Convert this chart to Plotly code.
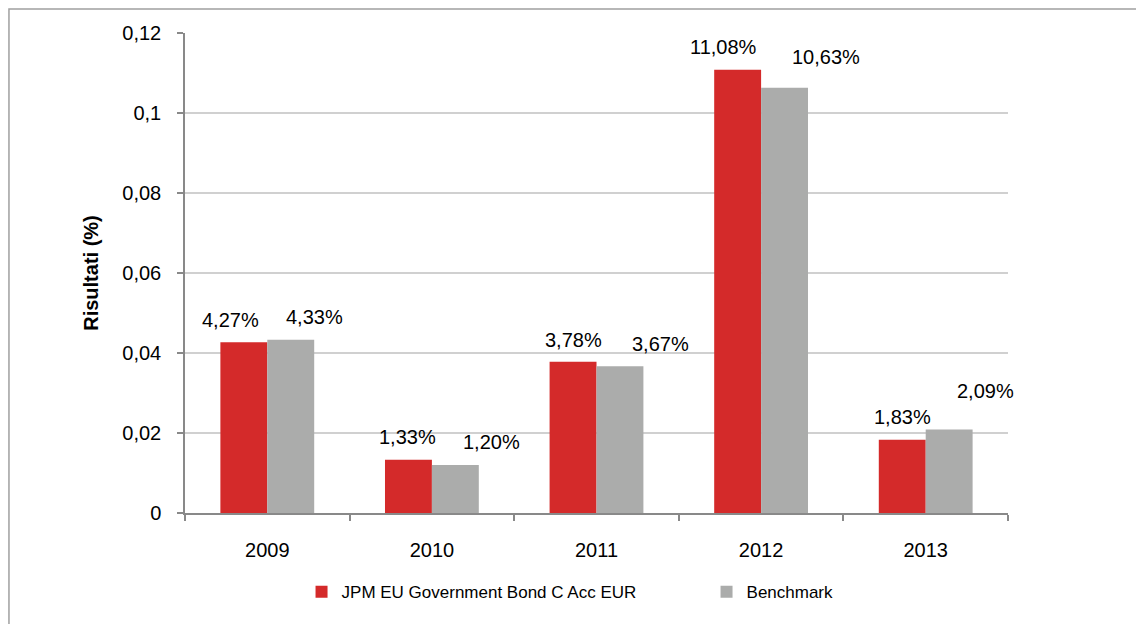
import plotly.graph_objects as go

years = ["2009", "2010", "2011", "2012", "2013"]
fund_name = "JPM EU Government Bond C Acc EUR"
bench_name = "Benchmark"
fund = [0.0427, 0.0133, 0.0378, 0.1108, 0.0183]
bench = [0.0433, 0.0120, 0.0367, 0.1063, 0.0209]
y_ticks = [0, 0.02, 0.04, 0.06, 0.08, 0.1, 0.12]
y_ticktext = ["0", "0,02", "0,04", "0,06", "0,08", "0,1", "0,12"]
y_title = "Risultati (%)"

# label offsets (pixels) relative to category centre / bar top
fund_dx = [-37, -24, -23, -38, -23]
fund_dy = [22, 23, 22, 23, 23]
bench_dx = [47, 60, 64, 65, 60]
bench_dy = [23, 23, 22, 31, 38]

RED = "#D42A2A"
GREY = "#ABACAB"
FONT = "Arial, Liberation Sans, sans-serif"


def fmt(v):
    return f"{v*100:.2f}%".replace(".", ",")


fig = go.Figure()
fig.add_trace(go.Bar(x=years, y=fund, name=fund_name, marker=dict(color=RED, line=dict(width=0))))
fig.add_trace(go.Bar(x=years, y=bench, name=bench_name, marker=dict(color=GREY, line=dict(width=0))))

ann = []
for i, yr in enumerate(years):
    ann.append(dict(x=i, y=fund[i], text=fmt(fund[i]), showarrow=False, xshift=fund_dx[i],
                    yshift=fund_dy[i], yanchor="middle", xanchor="center",
                    font=dict(size=20, color="#000000", family=FONT)))
    ann.append(dict(x=i, y=bench[i], text=fmt(bench[i]), showarrow=False, xshift=bench_dx[i],
                    yshift=bench_dy[i], yanchor="middle", xanchor="center",
                    font=dict(size=20, color="#000000", family=FONT)))

fig.update_layout(
    width=1136, height=616,
    margin=dict(l=177, r=136, t=25, b=111, autoexpand=False),
    paper_bgcolor="white", plot_bgcolor="white",
    barmode="group", bargap=0.43, bargroupgap=0,
    font=dict(family=FONT, size=20, color="#000000"),
    annotations=ann,
    showlegend=True,
    legend=dict(orientation="h", x=0.1416, xanchor="left", y=-0.165, yanchor="middle",
                font=dict(size=17, family=FONT, color="#000000"),
                bgcolor="rgba(0,0,0,0)", entrywidth=360, entrywidthmode="pixels",
                itemwidth=30),
    shapes=[dict(type="rect", xref="paper", yref="paper",
                 x0=-0.2139, x1=1.2, y0=-0.3, y1=1.05,
                 line=dict(color="#A0A0A0", width=1.5), fillcolor="rgba(0,0,0,0)", layer="below")],
)
fig.update_xaxes(type="category", range=[-0.5, 4.5], showline=True, linecolor="#898989", linewidth=1.5,
                 ticks="outside", tickson="boundaries", ticklen=6, tickcolor="#898989", tickwidth=1.5,
                 showgrid=False, tickfont=dict(size=20), ticklabelstandoff=18, tickangle=0)
fig.update_yaxes(range=[0, 0.12], tickvals=y_ticks, ticktext=y_ticktext,
                 showline=True, linecolor="#898989", linewidth=1.5,
                 ticks="outside", ticklen=6, tickcolor="#898989", tickwidth=1.5,
                 showgrid=True, gridcolor="#D0D0D0", gridwidth=1.5, zeroline=False,
                 tickfont=dict(size=20), ticklabelstandoff=12,
                 title=dict(text="<b>" + y_title + "</b>", font=dict(size=20), standoff=18))

fig.write_html("out.html")
